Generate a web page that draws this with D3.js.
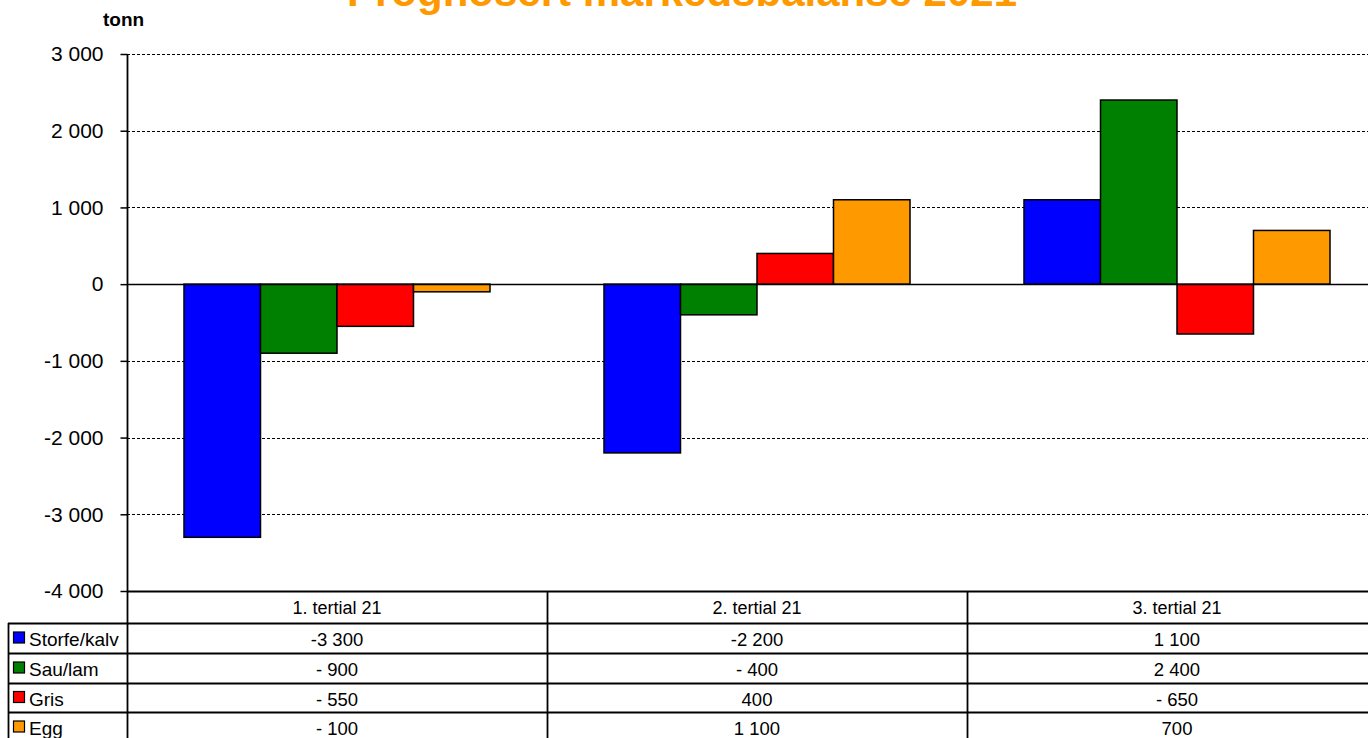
<!DOCTYPE html>
<html>
<head>
<meta charset="utf-8">
<script src="https://cdn.jsdelivr.net/npm/d3@7"></script>
<style>
  body { margin: 0; background: #fff; }
  text { font-family: "Liberation Sans", Arial, sans-serif; }
</style>
</head>
<body>
<div id="chart"></div>
<script>
// data
var categories = ["1. tertial 21", "2. tertial 21", "3. tertial 21"];
var series = ["Storfe/kalv", "Sau/lam", "Gris", "Egg"];
var storfe = [-3300, -2200, 1100];
var sau = [-900, -400, 2400];
var gris = [-550, 400, -650];
var egg = [-100, 1100, 700];
var yTicks = [-4000, -3000, -2000, -1000, 0, 1000, 2000, 3000];
var colors = ["#0000ff", "#008000", "#ff0000", "#ff9900"];

var values = [storfe, sau, gris, egg];

var width = 1368;
var height = 738;
var plotLeft = 127, plotTop = 54, plotBottom = 591;
var groupW = 420;
var rowH = [32, 30, 30, 29, 30];

var svg = d3.select("#chart").append("svg")
  .attr("width", width)
  .attr("height", height);

var x = d3.scaleBand()
  .domain(categories)
  .range([plotLeft, plotLeft + groupW * categories.length]);

var xs = d3.scaleBand()
  .domain(series)
  .range([0, x.bandwidth()])
  .paddingInner(0)
  .paddingOuter(0.745);

var y = d3.scaleLinear()
  .domain([-4000, 3000])
  .range([plotBottom, plotTop]);

function fmt(v) {
  var s = d3.format(",")(Math.abs(v)).replace(/,/g, " ");
  if (v < 0) return Math.abs(v) < 1000 ? "- " + s : "-" + s;
  return s;
}

// title (partly cut off at the top)
svg.append("text")
  .attr("x", 682)
  .attr("y", 6)
  .attr("text-anchor", "middle")
  .style("font-size", "42px")
  .style("font-weight", "bold")
  .style("fill", "#ff9900")
  .text("Prognosert markedsbalanse 2021");

svg.append("text")
  .attr("x", 103)
  .attr("y", 26)
  .style("font-size", "19px")
  .style("font-weight", "bold")
  .text("tonn");

// gridlines
svg.append("g")
  .selectAll("line")
  .data(yTicks.filter(d => d !== 0))
  .enter()
  .append("line")
  .attr("x1", plotLeft)
  .attr("x2", width)
  .attr("y1", d => Math.round(y(d)) + 0.5)
  .attr("y2", d => Math.round(y(d)) + 0.5)
  .attr("stroke", "#000")
  .attr("stroke-width", 1.2)
  .attr("stroke-dasharray", "3,2");

// y axis
var yAxis = d3.axisLeft(y)
  .tickValues(yTicks)
  .tickSize(7)
  .tickPadding(17)
  .tickFormat(fmt);

var ag = svg.append("g")
  .attr("transform", "translate(" + (plotLeft + 0.5) + ",0)")
  .call(yAxis);
ag.select(".domain").remove();
ag.selectAll("text")
  .style("font-family", "'Liberation Sans', Arial, sans-serif")
  .style("font-size", "21px")
  .attr("fill", "#000");
ag.selectAll("line").attr("stroke", "#000").attr("stroke-width", 1.5);

// bars
var groups = svg.append("g")
  .selectAll("g")
  .data(categories)
  .enter()
  .append("g")
  .attr("transform", d => "translate(" + x(d) + ",0)");

groups.selectAll("rect")
  .data((c, ci) => series.map((s, si) => ({ s: s, si: si, v: values[si][ci] })))
  .enter()
  .append("rect")
  .attr("x", d => xs(d.s))
  .attr("width", xs.bandwidth())
  .attr("y", d => y(Math.max(0, d.v)))
  .attr("height", d => Math.abs(y(d.v) - y(0)))
  .attr("fill", d => colors[d.si])
  .attr("stroke", "#000")
  .attr("stroke-width", 1.5);

// zero line
svg.append("line")
  .attr("x1", plotLeft).attr("x2", width)
  .attr("y1", Math.round(y(0)) + 0.5).attr("y2", Math.round(y(0)) + 0.5)
  .attr("stroke", "#000")
  .attr("stroke-width", 1.3);

// data table
var rowY = [plotBottom];
rowH.forEach(h => rowY.push(rowY[rowY.length - 1] + h));

var tbl = svg.append("g");

// horizontal lines
tbl.selectAll("line.h")
  .data(rowY.slice(0, 5))
  .enter()
  .append("line")
  .attr("class", "h")
  .attr("x1", (d, i) => i === 0 ? plotLeft : 8)
  .attr("x2", width)
  .attr("y1", d => d + 0.5)
  .attr("y2", d => d + 0.5)
  .attr("stroke", "#000")
  .attr("stroke-width", 1.8);

// vertical lines
tbl.selectAll("line.v")
  .data(categories)
  .enter()
  .append("line")
  .attr("class", "v")
  .attr("x1", d => x(d) + 0.5)
  .attr("x2", d => x(d) + 0.5)
  .attr("y1", (d, i) => i === 0 ? plotTop : plotBottom)
  .attr("y2", height)
  .attr("stroke", "#000")
  .attr("stroke-width", 1.8);

tbl.append("line")
  .attr("x1", 8.5).attr("x2", 8.5)
  .attr("y1", rowY[1]).attr("y2", height)
  .attr("stroke", "#000")
  .attr("stroke-width", 1.8);

// header labels
tbl.selectAll("text.cat")
  .data(categories)
  .enter()
  .append("text")
  .attr("class", "cat")
  .attr("x", d => x(d) + x.bandwidth() / 2)
  .attr("y", (rowY[0] + rowY[1]) / 2 + 7)
  .attr("text-anchor", "middle")
  .style("font-size", "18px")
  .text(d => d);

// legend + values per row
series.forEach(function(s, si) {
  var cy = (rowY[si + 1] + rowY[si + 2]) / 2;
  tbl.append("rect")
    .attr("x", 13.5)
    .attr("y", cy - 6)
    .attr("width", 11)
    .attr("height", 11)
    .attr("fill", colors[si])
    .attr("stroke", "#000")
    .attr("stroke-width", 1.2);
  tbl.append("text")
    .attr("x", 29)
    .attr("y", cy + 8)
    .style("font-size", "19px")
    .text(s);
  tbl.selectAll(null)
    .data(categories)
    .enter()
    .append("text")
    .attr("x", d => x(d) + x.bandwidth() / 2)
    .attr("y", cy + 8)
    .attr("text-anchor", "middle")
    .style("font-size", "18.5px")
    .text((d, ci) => fmt(values[si][ci]));
});
</script>
</body>
</html>
